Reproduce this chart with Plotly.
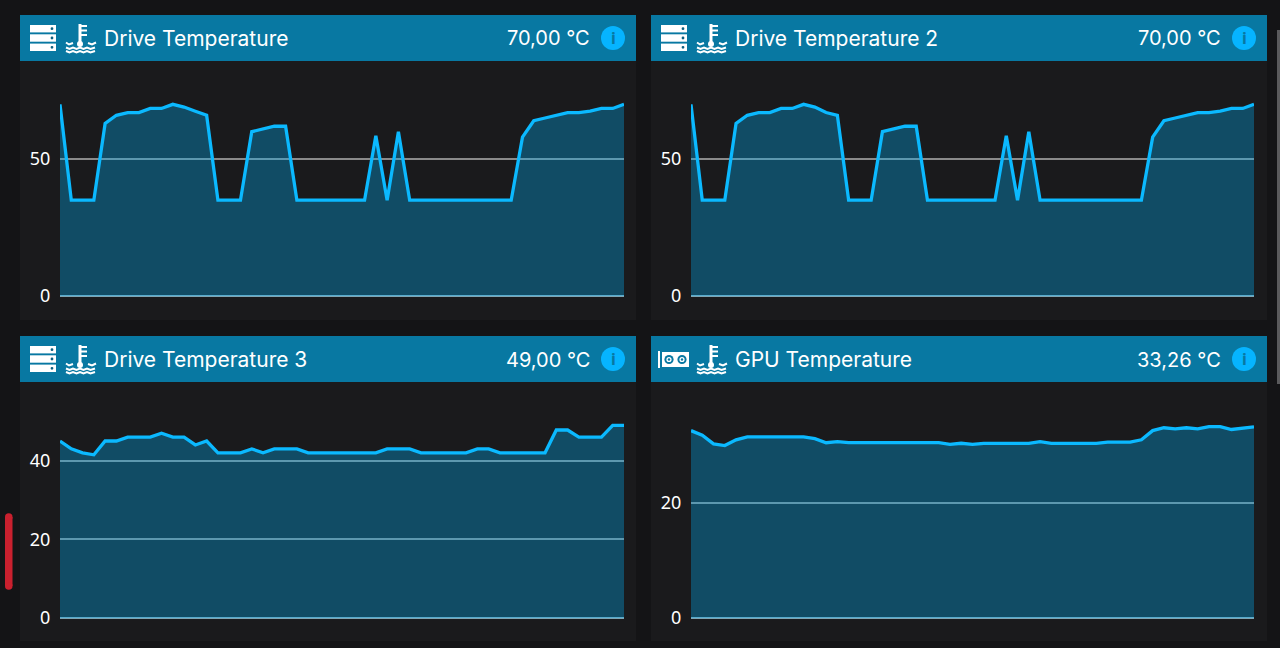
import plotly.graph_objects as go

WIDTH, HEIGHT = 1280, 648

titles = ["Drive Temperature", "Drive Temperature 2", "Drive Temperature 3", "GPU Temperature"]
readouts = ["70,00 °C", "70,00 °C", "49,00 °C", "33,26 °C"]
tick_values = [[0, 50], [0, 50], [0, 20, 40], [0, 20]]

drive_1 = [70, 35, 35, 35, 63, 66, 67, 67, 68.5, 68.5, 70, 69, 67.5, 66, 35, 35, 35, 60, 61, 62, 62,
           35, 35, 35, 35, 35, 35, 35, 58.5, 35, 60, 35, 35, 35, 35, 35, 35, 35, 35, 35, 35,
           58, 64, 65, 66, 67, 67, 67.5, 68.5, 68.5, 70]
drive_2 = [70, 35, 35, 35, 63, 66, 67, 67, 68.5, 68.5, 70, 69, 67, 66, 35, 35, 35, 60, 61, 62, 62,
           35, 35, 35, 35, 35, 35, 35, 58.5, 35, 60, 35, 35, 35, 35, 35, 35, 35, 35, 35, 35,
           58, 64, 65, 66, 67, 67, 67.5, 68.5, 68.5, 70]
drive_3 = [45, 43, 42, 41.5, 45, 45, 46, 46, 46, 47, 46, 46, 44, 45, 42, 42, 42, 43, 42, 43, 43, 43,
           42, 42, 42, 42, 42, 42, 42, 43, 43, 43, 42, 42, 42, 42, 42, 43, 43, 42, 42, 42, 42, 42,
           47.8, 47.8, 46, 46, 46, 49, 49]
gpu = [32.6, 31.8, 30.3, 30, 31, 31.5, 31.5, 31.5, 31.5, 31.5, 31.5, 31.2, 30.5, 30.7, 30.5, 30.5,
       30.5, 30.5, 30.5, 30.5, 30.5, 30.5, 30.5, 30.2, 30.4, 30.2, 30.4, 30.4, 30.4, 30.4, 30.4,
       30.7, 30.4, 30.4, 30.4, 30.4, 30.4, 30.6, 30.6, 30.6, 31, 32.6, 33.1, 32.9, 33.1, 32.9,
       33.3, 33.3, 32.8, 33, 33.26]
series = [drive_1, drive_2, drive_3, gpu]
y_tops = [84, 84, 56.7, 38.8]

BG = "#141416"
PANEL = "#1a1a1c"
HEADER = "#0878a2"
LINE = "#0bb9ff"
FILL = "rgba(0,184,255,0.32)"
GRID = "#8a8a8a"
WHITE = "#ffffff"

panels = [(0, 0), (631, 0), (0, 321), (631, 321)]


def px(x):
    return x / WIDTH


def py(y):
    return 1 - y / HEIGHT


def rect(x0, y0, x1, y1, color, layer="above"):
    return dict(type="rect", xref="paper", yref="paper", x0=px(x0), x1=px(x1), y0=py(y1), y1=py(y0),
                fillcolor=color, line_width=0, layer=layer)


def circle(cx, cy, r, color, line=None):
    return dict(type="circle", xref="paper", yref="paper", x0=px(cx - r), x1=px(cx + r), y0=py(cy + r),
                y1=py(cy - r), fillcolor=color, line=dict(width=1.6 if line else 0, color=line or color),
                layer="above")


def stroke(points, width=1.8):
    d = "M " + " L ".join(f"{px(x):.5f},{py(y):.5f}" for x, y in points)
    return dict(type="path", xref="paper", yref="paper", path=d, line=dict(color=WHITE, width=width),
                layer="above")


def thermometer(dx, dy):
    out = [stroke([(80 + dx, 24 + dy), (80 + dx, 42 + dy)], 3), circle(80 + dx, 44 + dy, 3, WHITE)]
    for y in (26, 30.5, 35):
        out.append(stroke([(81 + dx, y + dy), (87 + dx, y + dy)], 2))
    for base in (47.5, 51):
        pts = [(66 + dx, base + dy), (69.5 + dx, base + 1.5 + dy), (73 + dx, base + dy), (76.5 + dx, base + 1.5 + dy),
               (80 + dx, base + dy), (83.5 + dx, base + 1.5 + dy), (87 + dx, base + dy), (90.5 + dx, base + 1.5 + dy),
               (95 + dx, base + dy)]
        out.append(stroke(pts, 2))
    out.append(stroke([(66 + dx, 42.5 + dy), (69 + dx, 44.5 + dy), (73 + dx, 43 + dy)], 2))
    out.append(stroke([(88 + dx, 43 + dy), (92 + dx, 44.5 + dy), (96 + dx, 42.5 + dy)], 2))
    return out


def server(dx, dy):
    out = []
    for y in (25, 34.3, 43.6):
        out.append(rect(30 + dx, y + dy, 56 + dx, y + 7.4 + dy, WHITE))
        out.append(circle(52 + dx, y + 3.7 + dy, 1.4, "#0b5f80"))
    return out


def gpu_icon(dx, dy):
    out = [rect(27 + dx, 30 + dy, 29 + dx, 47 + dy, WHITE), rect(31 + dx, 31 + dy, 58 + dx, 46 + dy, WHITE)]
    for cx in (38, 51):
        out.append(circle(cx + dx, 38.5 + dy, 4.6, HEADER))
        out.append(circle(cx + dx, 38.5 + dy, 2.6, WHITE))
        out.append(circle(cx + dx, 38.5 + dy, 1.2, HEADER))
    return out


fig = go.Figure()
shapes = [rect(5, 517, 12.5, 586, "#c9202e"), circle(8.75, 517, 3.75, "#c9202e"), circle(8.75, 586, 3.75, "#c9202e"),
          rect(1277, 30, 1280, 384, "#5a5a5c")]
annotations = []
layout_axes = {}

for i, (dx, dy) in enumerate(panels):
    n = i + 1
    suffix = "" if n == 1 else str(n)
    values = series[i]
    fig.add_trace(go.Scatter(x=list(range(len(values))), y=values, mode="lines", fill="tozeroy", fillcolor=FILL,
                             line=dict(color=LINE, width=3.3, shape="linear"), hoverinfo="skip",
                             xaxis=f"x{suffix}", yaxis=f"y{suffix}", showlegend=False))
    left = 60 if dx == 0 else 691
    right = 624 if dx == 0 else 1254
    bottom = 296 + (322 if dy else 0)
    top = 66 + (329 if dy else 0)
    layout_axes[f"xaxis{suffix}"] = dict(domain=[px(left), px(right)], range=[0, 50], showgrid=False, zeroline=False,
                                         showticklabels=False, ticks="", anchor=f"y{suffix}", fixedrange=True,
                                         automargin=False)
    layout_axes[f"yaxis{suffix}"] = dict(domain=[py(bottom), py(top)], range=[0, y_tops[i]], anchor=f"x{suffix}",
                                         tickvals=tick_values[i], ticks="outside", ticklen=5,
                                         tickcolor="rgba(0,0,0,0)", showline=False, zeroline=True,
                                         zerolinecolor="#7fa6b5", zerolinewidth=1.5, showgrid=True,
                                         gridcolor=GRID, gridwidth=1.5, fixedrange=True, automargin=False,
                                         tickfont=dict(family="Noto Sans", size=18, color=WHITE))
    shapes.append(rect(20 + dx, 61 + dy, 636 + dx, 320 + dy, PANEL, "below"))
    shapes.append(rect(20 + dx, 15 + dy, 636 + dx, 61 + dy, HEADER, "below"))
    shapes.extend(gpu_icon(dx, dy) if i == 3 else server(dx, dy))
    shapes.extend(thermometer(dx, dy))
    shapes.append(circle(613 + dx, 38 + dy, 12, "#06b4ff"))
    annotations.append(dict(text=titles[i], x=px(102 + dx), y=py(38.5 + dy), xref="paper", yref="paper",
                            xanchor="left", yanchor="middle", showarrow=False,
                            font=dict(family="Inter", size=21, color=WHITE)))
    annotations.append(dict(text=readouts[i], x=px(592 + dx), y=py(38.5 + dy), xref="paper", yref="paper",
                            xanchor="right", yanchor="middle", showarrow=False,
                            font=dict(family="Inter", size=20, color=WHITE)))
    annotations.append(dict(text="<b>i</b>", x=px(613 + dx), y=py(38 + dy), xref="paper", yref="paper",
                            xanchor="center", yanchor="middle", showarrow=False,
                            font=dict(family="Noto Sans", size=16, color="#0878a2")))

fig.update_layout(width=WIDTH, height=HEIGHT, margin=dict(l=0, r=0, t=0, b=0), paper_bgcolor=BG, plot_bgcolor=PANEL,
                  shapes=shapes, annotations=annotations, showlegend=False, **layout_axes)
fig.write_html("out.html", config={"displayModeBar": False},
               post_script="document.body.style.margin='0';document.body.style.overflow='hidden';")
